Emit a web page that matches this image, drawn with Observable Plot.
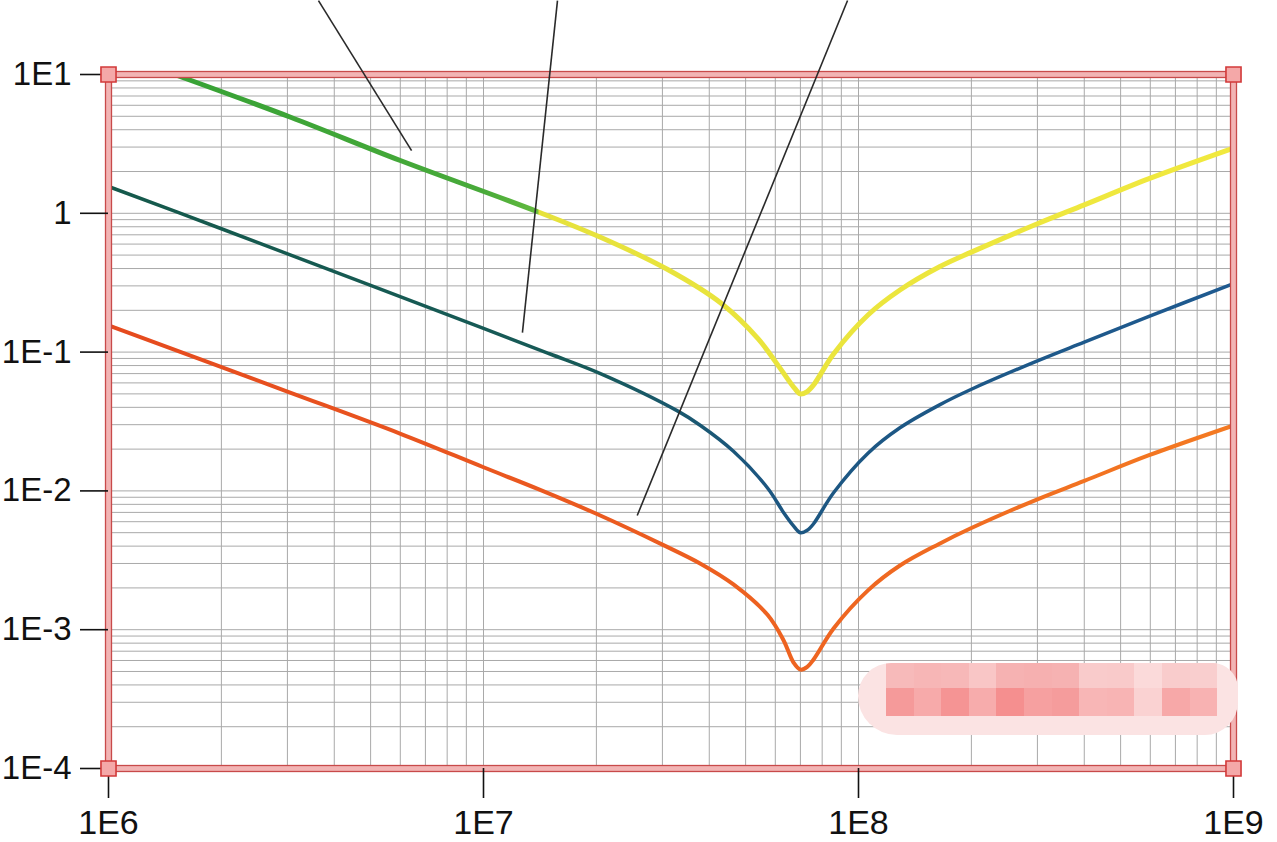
<!DOCTYPE html>
<html>
<head>
<meta charset="utf-8">
<script src="https://cdn.jsdelivr.net/npm/d3@7"></script>
<script src="https://cdn.jsdelivr.net/npm/@observablehq/plot@0.6"></script>
<style>
  html, body { margin: 0; padding: 0; background: #ffffff; }
  #wrap { position: relative; width: 1277px; height: 842px; overflow: hidden; }
  #patch {
    position: absolute; left: 858px; top: 663px; width: 380px; height: 72px;
    border-radius: 34px 26px 34px 40px; background: #fbe3e3; overflow: hidden;
  }
  #cells { position: absolute; left: 28px; top: 0; display: grid;
    grid-template-columns: repeat(12, 27.6px); grid-template-rows: 25px 28px; }
</style>
</head>
<body>
<div id="wrap"><div id="chart"></div><div id="patch"><div id="cells"></div></div></div>
<script>
// ---- data (frequency in Hz, impedance value) ----
const orangeF = [1e6, 3e6, 6.01e6, 1e7, 1.4e7, 2e7, 3e7, 3.79e7, 4.64e7, 5.72e7, 6.31e7, 6.71e7, 7.0e7, 7.3e7, 7.59e7, 8.58e7, 1.06e8, 1.29e8, 1.64e8, 2e8, 3e8, 4e8, 5.93e8, 1e9];
const orangeV = [0.156, 0.052, 0.0258, 0.0148, 0.0103, 0.00684, 0.0041, 0.00299, 0.00212, 0.00128, 0.00084, 0.00058, 0.000516, 0.00054, 0.00061, 0.00102, 0.00192, 0.0029, 0.00415, 0.0054, 0.0087, 0.0118, 0.018, 0.0296];

const blueF = [1e6, 2e6, 5e6, 1e7, 1.5e7, 2.05e7, 3.29e7, 3.79e7, 4.64e7, 5.72e7, 6.31e7, 6.71e7, 7.0e7, 7.3e7, 7.59e7, 8.58e7, 1.06e8, 1.29e8, 1.64e8, 2e8, 3e8, 4e8, 5.93e8, 1e9];
const blueV = [1.56, 0.774, 0.302, 0.148, 0.0973, 0.0700, 0.0377, 0.0296, 0.0193, 0.0105, 0.0070, 0.0056, 0.0050, 0.0052, 0.0058, 0.0097, 0.0187, 0.0285, 0.0415, 0.054, 0.0865, 0.118, 0.180, 0.312];

const yellowF = [1.5e6, 3.06e6, 6.0e6, 1.39e7, 2.03e7, 3.09e7, 4.31e7, 5.41e7, 6.19e7, 6.75e7, 7.0e7, 7.3e7, 7.59e7, 8.58e7, 1.06e8, 1.29e8, 1.64e8, 2e8, 3e8, 4e8, 5.93e8, 1e9];
const yellowV = [10.0, 4.92, 2.40, 1.03, 0.68, 0.395, 0.224, 0.124, 0.076, 0.055, 0.050, 0.052, 0.058, 0.097, 0.185, 0.28, 0.41, 0.525, 0.84, 1.15, 1.77, 2.95];

// leader lines (callouts whose labels are cut off above the chart)
const leaderF1 = [3.63e6, 1.575e7, 9.35e7];
const leaderV1 = [34.1, 34.1, 34.1];
const leaderF2 = [6.43e6, 1.27e7, 2.57e7];
const leaderV2 = [2.83, 0.138, 0.00665];

// axis ticks and labels
const xTicks = [1e6, 1e7, 1e8, 1e9];
const xLabels = ["1E6", "1E7", "1E8", "1E9"];
const yTicks = [1e-4, 1e-3, 1e-2, 1e-1, 1, 10];
const yLabels = ["1E-4", "1E-3", "1E-2", "1E-1", "1", "1E1"];
const gridMultipliers = [1, 2, 3, 4, 5, 6, 7, 8, 9];

// redaction mosaic colours (two rows)
const patchTop = ["#f7baba", "#f7b6b6", "#f7b8b8", "#f9c6c6", "#f6b2b2", "#f6b0b0", "#f6b2b2", "#f9cbcb", "#f9caca", "#fbdada", "#f9cccc", "#f9cece"];
const patchBottom = ["#f59a9a", "#f7aaaa", "#f59494", "#f7acac", "#f58f8f", "#f6a0a0", "#f59c9c", "#f8b6b6", "#f8b4b4", "#fad2d2", "#f7a8a8", "#f8b2b2"];

// ---- build tables ----
const toRows = (F, V) => F.map((f, i) => ({f, v: V[i]}));
const orange = toRows(orangeF, orangeV);
const blue = toRows(blueF, blueV);
const yellow = toRows(yellowF, yellowV);
const leaders = leaderF1.map((f, i) => ({f1: f, v1: leaderV1[i], f2: leaderF2[i], v2: leaderV2[i]}));
const xGrid = xTicks.slice(0, -1).flatMap(d => gridMultipliers.map(m => d * m)).concat([xTicks[xTicks.length - 1]]);
const yGrid = yTicks.slice(0, -1).flatMap(d => gridMultipliers.map(m => d * m)).concat([yTicks[yTicks.length - 1]]);
const corners = [
  {f: xTicks[0], v: yTicks[0]}, {f: xTicks[xTicks.length - 1], v: yTicks[0]},
  {f: xTicks[0], v: yTicks[yTicks.length - 1]}, {f: xTicks[xTicks.length - 1], v: yTicks[yTicks.length - 1]}
];

const font = "'Liberation Sans', Arial, sans-serif";

const chart = Plot.plot({
  width: 1277,
  height: 842,
  marginLeft: 108,
  marginRight: 44,
  marginTop: 74,
  marginBottom: 74,
  style: {fontFamily: font, background: "#ffffff", color: "#111"},
  x: {type: "log", domain: [xTicks[0], xTicks[xTicks.length - 1]]},
  y: {type: "log", domain: [yTicks[0], yTicks[yTicks.length - 1]]},
  marks: [
    Plot.gridX(xGrid, {stroke: "#a9a9a9", strokeOpacity: 1, strokeWidth: 1}),
    Plot.gridY(yGrid, {stroke: "#a9a9a9", strokeOpacity: 1, strokeWidth: 1}),
    Plot.line(orange, {x: "f", y: "v", stroke: "url(#gOrange)", strokeWidth: 4, curve: "catmull-rom"}),
    Plot.line(blue, {x: "f", y: "v", stroke: "url(#gBlue)", strokeWidth: 3.5, curve: "catmull-rom"}),
    Plot.line(yellow, {x: "f", y: "v", stroke: "url(#gYellow)", strokeWidth: 5, curve: "catmull-rom"}),
    Plot.frame({stroke: "#f2b4b4", strokeWidth: 6}),
    Plot.frame({stroke: "#c84a4a", strokeWidth: 1.3, inset: -3}),
    Plot.frame({stroke: "#c84a4a", strokeWidth: 1.3, inset: 3}),
    Plot.link(leaders, {x1: "f1", y1: "v1", x2: "f2", y2: "v2", stroke: "#2a2a2a", strokeWidth: 1.6}),
    Plot.axisX(xTicks, {tickSize: 30, tickPadding: 11, fontSize: 34, stroke: "#111", strokeWidth: 1.6,
      tickFormat: d => xLabels[xTicks.indexOf(d)], label: null, fill: "#111"}),
    Plot.axisY(yTicks, {tickSize: 28, tickPadding: 9, fontSize: 33, stroke: "#111", strokeWidth: 1.6,
      tickFormat: d => yLabels[yTicks.indexOf(d)], label: null, fill: "#111"}),
    Plot.dot(corners, {x: "f", y: "v", symbol: "square", r: 8.5, stroke: "#d23a3a", strokeWidth: 1.6, fill: "#f4a8a8"})
  ]
});

document.getElementById("chart").appendChild(chart);

// gradients for the colour changes along the curves
const xs = chart.scale("x");
const x0 = xs.apply(xTicks[0]), x1 = xs.apply(xTicks[xTicks.length - 1]);
const svg = d3.select(chart.tagName.toLowerCase() === "svg" ? chart : chart.querySelector("svg"));
const defs = svg.insert("defs", ":first-child");
function grad(id, stops) {
  const g = defs.append("linearGradient").attr("id", id)
    .attr("gradientUnits", "userSpaceOnUse")
    .attr("x1", x0).attr("x2", x1).attr("y1", 0).attr("y2", 0);
  for (const [o, c] of stops) g.append("stop").attr("offset", o).attr("stop-color", c);
}
const split = (xs.apply(yellowF[3]) - x0) / (x1 - x0);
grad("gOrange", [[0, "#e54a1e"], [0.5, "#ec5d20"], [1, "#f47a22"]]);
grad("gBlue", [[0, "#15594b"], [0.42, "#175a58"], [0.58, "#1c5680"], [1, "#1f5a90"]]);
grad("gYellow", [[0, "#33a034"], [split - 0.05, "#48aa3a"], [split, "#62ba3e"], [split + 0.002, "#e6e23c"], [1, "#f1e93e"]]);

// redaction patch mosaic
const cells = document.getElementById("cells");
[patchTop, patchBottom].forEach(row => row.forEach(c => {
  const d = document.createElement("div");
  d.style.background = c;
  cells.appendChild(d);
}));
</script>
</body>
</html>
